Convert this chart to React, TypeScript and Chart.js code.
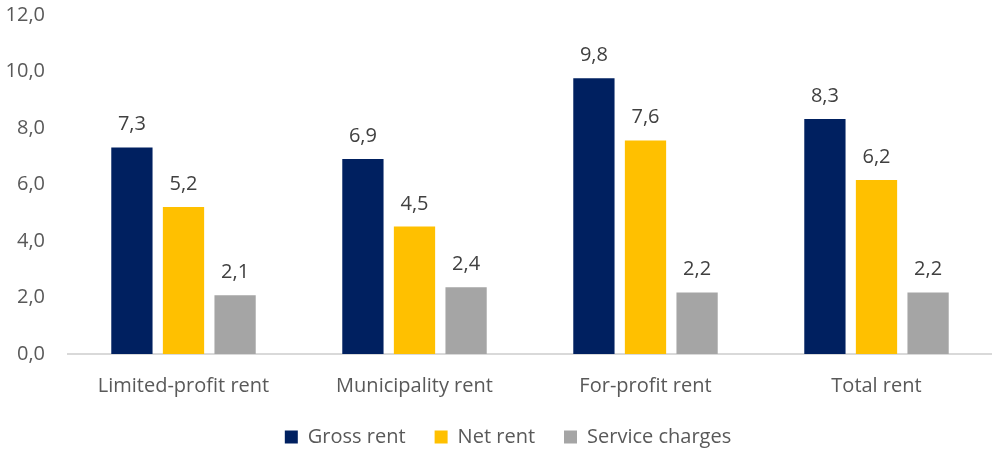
import React, { useEffect, useRef } from "react";
import { Chart, registerables } from "chart.js";

Chart.register(...registerables);

const categories = ["Limited-profit rent", "Municipality rent", "For-profit rent", "Total rent"];
const grossRent = [7.31, 6.9, 9.76, 8.32];
const netRent = [5.2, 4.51, 7.56, 6.16];
const serviceCharges = [2.08, 2.36, 2.18, 2.18];
const yTicks = [0, 2, 4, 6, 8, 10, 12];

const FONT = "'Open Sans', sans-serif";
const SIZE = 20;

const fmt = (v: number) => v.toFixed(1).replace(".", ",");

const labelPlugin = {
  id: "barLabels",
  afterLayout(chart: any) {
    if (chart.legend) {
      chart.legend.left += 12;
      chart.legend.right += 12;
    }
  },
  afterDatasetsDraw(chart: any) {
    const ctx = chart.ctx;
    ctx.save();
    ctx.font = `${SIZE}px ${FONT}`;
    ctx.fillStyle = "#404040";
    ctx.textAlign = "center";
    ctx.textBaseline = "alphabetic";
    chart.data.datasets.forEach((ds: any, i: number) => {
      const meta = chart.getDatasetMeta(i);
      meta.data.forEach((bar: any, j: number) => {
        ctx.fillText(fmt(ds.data[j]), bar.x, bar.y - 17);
      });
    });
    ctx.restore();
  },
};

export default function App() {
  const ref = useRef<HTMLCanvasElement>(null);
  useEffect(() => {
    if (!ref.current) return;
    const chart = new Chart(ref.current, {
      type: "bar",
      data: {
        labels: categories,
        datasets: [
          { label: "Gross rent", data: grossRent, backgroundColor: "#002060" },
          { label: "Net rent", data: netRent, backgroundColor: "#FFC000" },
          { label: "Service charges", data: serviceCharges, backgroundColor: "#A5A5A5" },
        ],
      },
      options: {
        animation: false,
        responsive: false,
        maintainAspectRatio: false,
        datasets: { bar: { categoryPercentage: 0.67, barPercentage: 0.8 } },
        layout: { padding: { top: 15, right: 0, left: 0, bottom: -7 } },
        plugins: {
          legend: {
            position: "bottom",
            labels: {
              font: { family: FONT, size: SIZE },
              color: "#595959",
              boxWidth: 13,
              boxHeight: 13,
              padding: 29,
            },
          },
          tooltip: { enabled: false },
        },
        scales: {
          x: {
            grid: { display: false, drawTicks: true, tickLength: 20 },
            border: { display: true, color: "#D9D9D9", width: 2 },
            ticks: { font: { family: FONT, size: SIZE }, color: "#595959", padding: 0 },
          },
          y: {
            min: 0,
            max: 12,
            afterBuildTicks: (axis: any) => {
              axis.ticks = yTicks.map((v) => ({ value: v }));
            },
            afterFit: (axis: any) => {
              axis.width = 68;
            },
            grid: { display: false, drawTicks: true, tickLength: 23 },
            border: { display: false },
            ticks: {
              font: { family: FONT, size: SIZE },
              color: "#595959",
              padding: 0,
              callback: (v: any) => fmt(Number(v)),
            },
          },
        },
      },
      plugins: [labelPlugin],
    });
    return () => chart.destroy();
  }, []);
  return (
    <div style={{ position: "fixed", left: 0, top: 0, width: 992, height: 450, background: "#fff" }}>
      <canvas ref={ref} width={992} height={450} style={{ width: 992, height: 450 }} />
    </div>
  );
}
